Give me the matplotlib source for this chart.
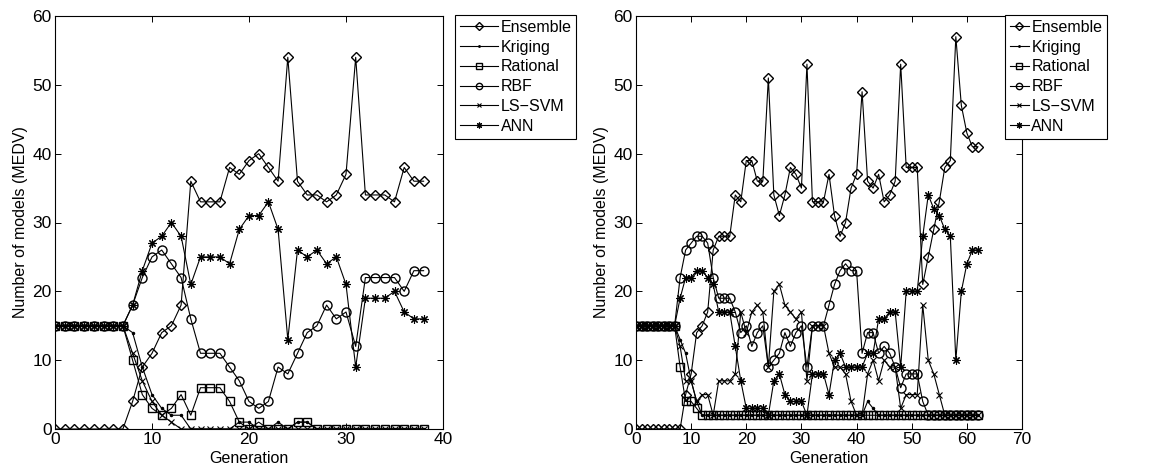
import matplotlib
matplotlib.use("Agg")
import matplotlib.pyplot as plt

plt.rcParams['font.family'] = ['Liberation Sans', 'DejaVu Sans']
plt.rcParams['font.size'] = 11

series_names = ["Ensemble", "Kriging", "Rational", "RBF", "LS\u2212SVM", "ANN"]

# ---------------- Left panel (generations 0..38) ----------------
gen_left = list(range(39))
ens_left = [0, 0, 0, 0, 0, 0, 0, 0, 4, 9, 11, 14, 15, 18, 36, 33, 33, 33, 38, 37,
            39, 40, 38, 36, 54, 36, 34, 34, 33, 34, 37, 54, 34, 34, 34, 33, 38, 36, 36]
kri_left = [15, 15, 15, 15, 15, 15, 15, 15, 14, 9, 5, 3, 2, 2, 0, 0, 0, 0, 0, 1,
            1, 0, 0, 1, 0, 1, 1, 0, 0, 0, 0, 0, 0, 0, 0, 0, 0, 0, 0]
rat_left = [15, 15, 15, 15, 15, 15, 15, 15, 10, 5, 3, 2, 3, 5, 2, 6, 6, 6, 4, 1,
            0, 1, 0, 0, 0, 1, 1, 0, 0, 0, 0, 0, 0, 0, 0, 0, 0, 0, 0]
rbf_left = [15, 15, 15, 15, 15, 15, 15, 15, 18, 22, 25, 26, 24, 22, 16, 11, 11, 11, 9, 7,
            4, 3, 4, 9, 8, 11, 14, 15, 18, 16, 17, 12, 22, 22, 22, 22, 20, 23, 23]
svm_left = [15, 15, 15, 15, 15, 15, 15, 15, 11, 7, 4, 2, 1, 0, 0, 0, 0, 0, 0, 0,
            0, 0, 0, 0, 0, 0, 0, 0, 0, 0, 0, 0, 0, 0, 0, 0, 0, 0, 0]
ann_left = [15, 15, 15, 15, 15, 15, 15, 15, 18, 23, 27, 28, 30, 28, 21, 25, 25, 25, 24, 29,
            31, 31, 33, 29, 13, 26, 25, 26, 24, 25, 21, 9, 19, 19, 19, 20, 17, 16, 16]

# ---------------- Right panel (generations 0..62) ----------------
gen_right = list(range(63))
ens_right = [0, 0, 0, 0, 0, 0, 0, 0, 0, 5, 8, 14, 15, 17, 26, 28, 28, 28, 34, 33,
             39, 39, 36, 36, 51, 34, 31, 34, 38, 37, 35, 53, 33, 33, 33, 37, 31, 28, 30, 35,
             37, 49, 36, 35, 37, 33, 34, 36, 53, 38, 38, 38, 21, 25, 29, 33, 38, 39, 57, 47,
             43, 41, 41]
kri_right = [15, 15, 15, 15, 15, 15, 15, 15, 13, 11, 7, 4, 2, 2, 2, 2, 2, 2, 2, 2,
             2, 2, 2, 2, 2, 2, 2, 2, 2, 2, 2, 2, 2, 2, 2, 2, 2, 2, 2, 2,
             2, 2, 4, 3, 2, 2, 2, 2, 2, 2, 2, 2, 2, 2, 2, 2, 2, 2, 2, 2,
             2, 2, 2]
rat_right = [15, 15, 15, 15, 15, 15, 15, 15, 9, 4, 4, 3, 2, 2, 2, 2, 2, 2, 2, 2,
             2, 2, 2, 2, 2, 2, 2, 2, 2, 2, 2, 2, 2, 2, 2, 2, 2, 2, 2, 2,
             2, 2, 2, 2, 2, 2, 2, 2, 2, 2, 2, 2, 2, 2, 2, 2, 2, 2, 2, 2,
             2, 2, 2]
rbf_right = [15, 15, 15, 15, 15, 15, 15, 15, 22, 26, 27, 28, 28, 27, 22, 19, 19, 19, 17, 14,
             15, 12, 14, 15, 9, 10, 11, 14, 12, 14, 15, 9, 15, 15, 15, 18, 21, 23, 24, 23,
             23, 11, 14, 14, 11, 12, 11, 9, 6, 8, 8, 8, 4, 2, 2, 2, 2, 2, 2, 2,
             2, 2, 2]
svm_right = [15, 15, 15, 15, 15, 15, 15, 15, 12, 7, 7, 4, 5, 5, 2, 7, 7, 7, 8, 17,
             14, 17, 18, 17, 9, 20, 21, 18, 17, 16, 17, 7, 15, 15, 15, 11, 9, 9, 8, 4,
             2, 2, 8, 10, 7, 10, 9, 9, 3, 5, 5, 5, 18, 10, 8, 5, 2, 2, 2, 2,
             2, 2, 2]
ann_right = [15, 15, 15, 15, 15, 15, 15, 15, 19, 22, 22, 23, 23, 22, 21, 17, 17, 17, 12, 7,
             3, 3, 3, 3, 2, 7, 8, 5, 4, 4, 4, 2, 8, 8, 8, 5, 10, 11, 9, 9,
             9, 9, 11, 11, 16, 16, 17, 17, 9, 20, 20, 20, 28, 34, 32, 31, 29, 28, 10, 20,
             24, 26, 26]

x_ticks_left = [0, 10, 20, 30, 40]
x_ticks_right = [0, 10, 20, 30, 40, 50, 60, 70]
y_ticks = [0, 10, 20, 30, 40, 50, 60]

styles = [
    dict(marker='D', markersize=5.5, markerfacecolor='none'),
    dict(marker='.', markersize=3),
    dict(marker='s', markersize=5.5, markerfacecolor='none'),
    dict(marker='o', markersize=6.5, markerfacecolor='none'),
    dict(marker='x', markersize=5, markeredgewidth=0.8),
    dict(marker=(8, 2, 0), markersize=6, markeredgewidth=0.8),
]

W, H = 1158, 470
fig = plt.figure(figsize=(W / 100, H / 100), dpi=100)

def make_panel(rect, gens, data, xlim, xticks, legend_xy, handlelen):
    ax = fig.add_axes(rect)
    for vals, st, name in zip(data, styles, series_names):
        ax.plot(gens, vals, color='black', linewidth=0.8,
                markeredgecolor='black', label=name, **st)
    ax.set_xlim(*xlim)
    ax.set_ylim(0, 60)
    ax.set_xticks(xticks)
    ax.set_yticks(y_ticks)
    ax.tick_params(direction='in', top=True, right=True, length=4, width=0.7,
                   labelsize=12.5, pad=2.5)
    for sp in ax.spines.values():
        sp.set_linewidth(0.8)
    ax.set_xlabel("Generation", fontsize=11.5, labelpad=2.5)
    ax.set_ylabel("Number of models (MEDV)", fontsize=11.5, labelpad=3)
    leg = ax.legend(loc='upper left', bbox_to_anchor=legend_xy,
                    bbox_transform=fig.transFigure, frameon=True, fancybox=False,
                    edgecolor='black', framealpha=1, fontsize=11.5, borderaxespad=0,
                    handlelength=handlelen, handletextpad=0.15, labelspacing=0.3,
                    borderpad=0.3, markerscale=0.7)
    leg.get_frame().set_linewidth(0.8)
    return ax

make_panel([55 / W, 41 / H, 388 / W, 413 / H], gen_left,
           [ens_left, kri_left, rat_left, rbf_left, svm_left, ann_left],
           (0, 40), x_ticks_left, (455 / W, 1 - 15 / H), 2.4)
make_panel([636 / W, 41 / H, 386 / W, 413 / H], gen_right,
           [ens_right, kri_right, rat_right, rbf_right, svm_right, ann_right],
           (0, 70), x_ticks_right, (1005 / W, 1 - 15 / H), 1.2)

fig.savefig("out.png", dpi=100)
